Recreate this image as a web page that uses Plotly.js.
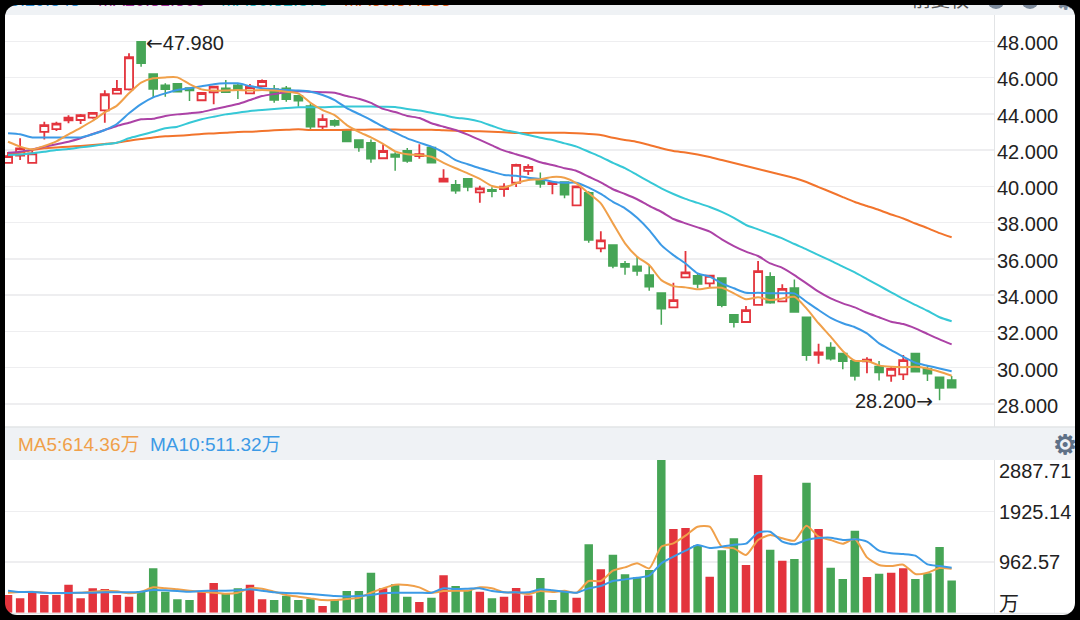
<!DOCTYPE html>
<html><head><meta charset="utf-8">
<script src="https://cdn.plot.ly/plotly-3.0.1.min.js"></script>
<style>
html,body{margin:0;padding:0;background:#fff;width:1080px;height:620px;overflow:hidden}
#chart{position:absolute;left:0;top:0;width:1080px;height:620px}
#frame{position:absolute;left:0;top:0;width:1080px;height:620px;box-sizing:border-box;overflow:hidden;pointer-events:none}
#frame:before{content:"";position:absolute;left:5px;top:5px;right:5px;bottom:5px;border-radius:12px;box-shadow:0 0 0 14px #000}
</style></head><body>
<div id="chart"></div><div id="frame"></div>
<script>
const directions = ("RRRRRRRRRRR"+"GGGGG"+"RR"+"GG"+"RR"+"GGGG"+"R"+"GGGG"+"R"+"GG"+"R"+"G"+"R"+"GG"+"R"+"G"+"RRR"+"G"+"R"+"G"+"R"+"G"+"R"+"GGGGG"+"RR"+"G"+"R"+"GG"+"RR"+"G"+"R"+"GG"+"R"+"GGG"+"R"+"G"+"RR"+"GGGG").split("");
const bodyTop = [41.67,42.10,41.82,43.38,43.46,43.79,43.93,44.05,45.08,45.37,47.12,47.98,46.20,45.57,45.66,45.42,45.15,45.50,45.41,45.57,45.48,45.81,45.37,45.41,45.00,44.43,43.71,43.62,43.11,42.56,42.41,41.95,41.77,41.97,41.78,42.15,40.42,40.09,40.42,39.89,39.81,39.98,41.19,41.08,40.39,40.20,40.24,40.00,39.65,37.02,36.76,35.73,35.59,35.11,34.12,33.73,35.26,35.07,35.07,34.94,32.92,33.18,35.33,35.02,34.35,34.39,32.78,30.85,31.12,30.79,30.38,30.44,30.07,29.93,30.42,30.79,29.94,29.47,29.32];
const bodyBottom = [41.29,41.69,41.30,43.01,43.16,43.64,43.66,43.79,44.19,45.11,45.35,46.79,45.37,45.35,45.22,45.28,44.75,45.19,45.19,45.31,45.13,45.53,44.76,44.80,44.72,43.29,43.29,43.38,42.48,42.15,41.52,41.55,41.62,41.40,41.67,41.30,40.26,39.76,39.96,39.67,39.73,39.85,40.20,40.85,40.13,40.13,39.54,38.95,37.04,36.58,35.61,35.55,35.33,34.46,33.25,33.33,34.98,34.61,34.65,33.44,32.50,32.52,33.46,33.58,33.66,33.07,30.68,30.71,30.49,30.35,29.54,30.35,29.74,29.56,29.63,29.78,29.67,28.88,28.89];
const highs = [41.90,42.65,42.06,43.57,43.57,43.92,43.99,44.10,45.30,45.87,47.34,47.98,46.20,45.68,45.66,45.46,45.19,45.53,45.87,45.64,45.64,45.90,45.59,45.53,45.05,44.58,43.97,43.70,43.11,42.59,42.59,42.32,41.88,42.11,42.32,42.19,40.94,40.35,40.46,40.04,39.95,40.17,41.25,41.22,40.77,40.20,40.28,40.04,39.73,37.52,36.76,35.88,36.12,35.66,34.12,34.69,36.43,35.20,35.11,34.96,32.92,33.40,35.88,35.26,34.60,34.87,32.78,31.32,31.41,30.82,30.42,30.57,30.37,30.05,30.70,30.79,30.11,29.47,29.54];
const lows = [41.29,41.45,41.30,42.59,43.05,43.48,43.44,43.73,43.51,45.09,45.28,46.60,44.87,44.94,45.20,44.71,44.71,44.53,45.16,44.82,45.08,45.50,44.61,44.67,44.39,43.15,43.16,43.29,42.48,41.91,41.30,41.55,40.86,41.30,41.52,41.29,40.26,39.59,39.73,39.10,39.40,39.43,39.96,40.63,39.92,39.56,39.34,38.93,36.89,36.36,35.48,35.13,35.07,34.24,32.37,33.33,34.98,34.38,34.41,33.33,32.22,32.52,33.46,33.53,33.66,33.07,30.38,30.22,30.40,29.92,29.30,29.69,29.30,29.22,29.32,29.78,29.26,28.20,28.89];
const ma5 = [42.46,42.19,42.04,42.23,42.48,42.87,43.23,43.62,44.08,44.45,45.13,45.72,45.96,46.01,46.01,45.64,45.35,45.28,45.28,45.31,45.28,45.31,45.28,45.22,45.13,44.61,44.21,43.93,43.38,43.01,42.70,42.34,41.93,41.77,41.73,41.63,41.30,41.00,40.72,40.41,40.02,39.93,40.17,40.35,40.39,40.52,40.48,40.17,39.62,39.06,37.96,36.86,36.12,35.66,34.83,34.50,34.43,34.32,34.41,34.41,34.10,33.77,33.88,33.73,33.82,33.91,33.27,32.45,31.71,30.92,30.38,30.38,30.13,30.05,30.03,30.05,29.96,29.78,29.56];
const ma10 = [42.93,42.87,42.70,42.70,42.70,42.70,42.70,42.87,43.11,43.44,44.03,44.54,44.91,45.13,45.31,45.41,45.52,45.63,45.68,45.68,45.53,45.41,45.35,45.31,45.28,45.22,45.04,44.76,44.32,43.99,43.66,43.29,42.96,42.65,42.41,42.19,41.88,41.45,41.22,41.00,40.81,40.63,40.59,40.48,40.41,40.26,40.20,40.20,39.93,39.58,39.15,38.79,38.27,37.59,36.76,36.21,35.75,35.20,35.02,34.65,34.38,34.13,34.13,34.10,34.10,34.10,33.64,33.18,32.75,32.45,32.23,31.89,31.34,30.97,30.60,30.27,30.11,29.96,29.81];
const ma20 = [41.86,41.91,42.04,42.19,42.32,42.46,42.65,42.89,43.11,43.33,43.51,43.70,43.73,43.88,43.97,44.03,44.10,44.25,44.39,44.54,44.76,44.98,45.09,45.19,45.24,45.22,45.19,45.16,44.98,44.83,44.60,44.27,44.10,43.88,43.77,43.48,43.29,43.11,42.85,42.56,42.26,41.97,41.77,41.58,41.33,41.18,41.00,40.85,40.53,40.22,39.84,39.58,39.29,38.92,38.60,38.20,37.96,37.74,37.50,37.08,36.71,36.40,36.16,35.75,35.51,35.11,34.65,34.19,33.82,33.55,33.33,33.03,32.78,32.53,32.41,32.17,31.86,31.56,31.29];
const ma30 = [41.73,41.76,41.82,41.91,42.00,42.06,42.15,42.23,42.32,42.41,42.65,42.83,43.01,43.20,43.29,43.51,43.70,43.84,43.97,44.06,44.16,44.21,44.27,44.32,44.36,44.36,44.36,44.39,44.40,44.40,44.40,44.39,44.38,44.27,44.18,44.06,43.93,43.79,43.71,43.57,43.34,43.11,42.98,42.83,42.68,42.56,42.37,42.19,41.91,41.63,41.30,41.00,40.63,40.26,39.89,39.58,39.31,39.09,38.86,38.59,38.26,37.87,37.63,37.38,37.13,36.82,36.53,36.21,35.90,35.57,35.26,34.89,34.52,34.16,33.79,33.46,33.14,32.78,32.56];
const ma60 = [41.78,41.86,42.00,42.10,42.15,42.19,42.23,42.28,42.34,42.41,42.52,42.61,42.70,42.76,42.79,42.83,42.89,42.92,42.96,43.00,43.01,43.05,43.09,43.12,43.15,43.11,43.11,43.11,43.12,43.12,43.13,43.13,43.13,43.12,43.12,43.12,43.09,43.07,43.05,43.04,43.01,42.98,42.94,42.94,42.96,42.96,42.96,42.93,42.89,42.83,42.68,42.56,42.45,42.28,42.10,41.95,41.87,41.76,41.62,41.45,41.29,41.12,40.96,40.79,40.63,40.46,40.24,39.96,39.69,39.41,39.14,38.92,38.70,38.45,38.23,37.95,37.70,37.42,37.19];
const volume = [337,273,413,337,337,534,273,464,451,337,305,413,845,400,254,241,413,565,356,464,534,254,241,324,241,261,127,241,413,413,762,464,540,305,203,286,712,508,432,400,273,305,470,330,661,241,407,286,1303,826,1106,731,674,813,2920,1595,1614,1290,686,1188,1417,909,2624,1201,991,1023,2478,1595,858,642,1563,680,743,762,845,642,750,1252,616];
const volColors = ("RRRRRRRRRRR"+"GGGGG"+"RR"+"GG"+"RR"+"GGGG"+"R"+"GGGG"+"R"+"GG"+"R"+"G"+"R"+"GG"+"R"+"G"+"RRR"+"G"+"G"+"G"+"R"+"G"+"R"+"GGGGG"+"RR"+"G"+"R"+"GG"+"RR"+"G"+"R"+"GG"+"R"+"GGG"+"R"+"G"+"RR"+"GGGG").split("");
const volMa5 = [381,394,400,381,369,375,381,400,419,407,369,400,483,464,445,419,400,381,362,381,464,458,400,337,305,273,241,241,261,286,381,464,534,527,483,381,413,419,419,483,464,388,388,356,413,394,419,381,604,604,801,864,940,845,1258,1322,1468,1639,1639,1258,1226,1099,1385,1480,1417,1372,1658,1449,1385,1315,1404,1055,909,890,915,737,762,851,839];
const volMa10 = [419,394,394,381,375,375,381,381,388,388,388,400,432,426,413,400,413,419,419,426,445,419,388,375,369,356,337,318,311,318,337,369,381,381,381,381,464,451,457,464,413,388,388,388,445,426,400,381,464,508,604,635,667,705,940,1067,1182,1290,1233,1258,1296,1315,1525,1544,1353,1303,1385,1423,1430,1385,1398,1353,1182,1131,1118,1087,921,890,858];
const priceTicks = [28,30,32,34,36,38,40,42,44,46,48];
const volTickVals = [962.57,1925.14];
const volTickText = ["962.57","1925.14"];
const maLabelsTop = ["0:29.843","MA20:31.305","MA30:32.573","MA60:37.253"];
const maLabelsVol = ["MA5:614.36万","MA10:511.32万"];

const RED="#e3343d", GREEN="#46a556", FONT="'Liberation Sans','Noto Sans CJK SC',sans-serif";
const idx = bodyTop.map((_,i)=>i);
const opens = idx.map(i=>directions[i]==="R"?bodyBottom[i]:bodyTop[i]);
const closes = idx.map(i=>directions[i]==="R"?bodyTop[i]:bodyBottom[i]);
const H=620,W=1080;
const px=v=>v/W, py=v=>1-v/H;
const line=(y,color,name,xa,ya)=>({type:"scatter",mode:"lines",x:idx,y:y,xaxis:xa,yaxis:ya,name:name,line:{color:color,width:2,shape:"spline",smoothing:0.6},hoverinfo:"skip"});
const traces=[
 {type:"candlestick",x:idx,open:opens,high:highs,low:lows,close:closes,xaxis:"x",yaxis:"y",
  increasing:{line:{color:RED,width:1.8},fillcolor:"#ffffff"},decreasing:{line:{color:GREEN,width:1.5},fillcolor:GREEN},whiskerwidth:0,hoverinfo:"skip"},
 line(ma60,"#f2742c","MA60","x","y"),
 line(ma30,"#36c8d6","MA30","x","y"),
 line(ma20,"#ac42a6","MA20","x","y"),
 line(ma10,"#3c9ae6","MA10","x","y"),
 line(ma5,"#f0a04a","MA5","x","y"),
 {type:"bar",x:idx,y:volume,xaxis:"x2",yaxis:"y2",marker:{color:volColors.map(c=>c==="R"?RED:GREEN),line:{width:0}},hoverinfo:"skip"},
 line(volMa5,"#f0a04a","VMA5","x2","y2"),
 line(volMa10,"#3c9ae6","VMA10","x2","y2"),
 {type:"scatter",mode:"none",x:[0],y:[40],xaxis:"x",yaxis:"y3",hoverinfo:"skip"}
];
const rect=(x0,y0,x1,y1,fill)=>({type:"rect",xref:"paper",yref:"paper",x0:px(x0),x1:px(x1),y0:py(y0),y1:py(y1),fillcolor:fill,line:{width:0},layer:"below"});
const hline=(y,x0,x1,c)=>({type:"line",xref:"paper",yref:"paper",x0:px(x0),x1:px(x1),y0:py(y),y1:py(y),line:{color:c,width:1.5},layer:"below"});
const dot=(cx,cy,r,c)=>({type:"circle",xref:"paper",yref:"paper",x0:px(cx-r),x1:px(cx+r),y0:py(cy+r),y1:py(cy-r),fillcolor:c,line:{width:0},layer:"below"});
const note=(text,x,y,size,color,anchor)=>({text:text,xref:"paper",yref:"paper",x:px(x),y:py(y),xanchor:anchor||"left",yanchor:"middle",showarrow:false,font:{family:FONT,size:size,color:color}});
const xBase={showgrid:false,zeroline:false,showticklabels:false,ticks:"",range:[-0.25,81.5]};
const arrow=s=>'<span style="font-family:DejaVu Sans">'+s+'</span>';
const labelFont={family:FONT,size:20,color:"#222"};
const layout={
 width:W,height:H,margin:{l:0,r:0,t:0,b:0},paper_bgcolor:"#fff",plot_bgcolor:"rgba(0,0,0,0)",showlegend:false,bargap:0.3,boxgap:0.04,
 xaxis:Object.assign({},xBase,{domain:[px(5),px(994)],anchor:"y",rangeslider:{visible:false}}),
 xaxis2:Object.assign({},xBase,{domain:[px(5),px(994)],anchor:"y2"}),
 yaxis:{domain:[py(427),py(15)],range:[26.73,49.45],side:"right",anchor:"x",showticklabels:false,tickmode:"array",tickvals:priceTicks,
   showgrid:true,gridcolor:"#eeeef0",gridwidth:1.5,zeroline:false,showline:true,linecolor:"#e2e4e6",linewidth:1,ticks:""},
 yaxis3:{domain:[py(427),py(15)],range:[26.73+1.8/18.13,49.45+1.8/18.13],side:"right",anchor:"x",overlaying:"y",tickmode:"array",tickvals:priceTicks,tickformat:".3f",
   showgrid:false,zeroline:false,showline:false,ticks:"",tickfont:labelFont,ticklabelstandoff:2},
 yaxis2:{domain:[py(612.7),py(460)],range:[0,2910],side:"right",anchor:"x2",tickmode:"array",tickvals:volTickVals,ticktext:volTickText,
   showgrid:true,gridcolor:"#eeeef0",gridwidth:1.5,zeroline:false,showline:true,linecolor:"#e2e4e6",linewidth:1,ticks:"",tickfont:labelFont},
 shapes:[
  rect(0,0,1080,15,"#eff2f5"),
  rect(0,427,1080,460,"#eff2f5"),
  hline(427,0,1080,"#e2e4e6"),
  hline(613.5,0,1080,"#e2e4e6"),
  dot(996,0,9,"#7c8a9c"),dot(1030,0,9,"#7c8a9c")
 ],
 annotations:[
  note(maLabelsTop[0],8,0,18,"#2c8fd8"),
  note(maLabelsTop[1],96,0,18,"#a5309a"),
  note(maLabelsTop[2],219,0,18,"#26b8c6"),
  note(maLabelsTop[3],342,0,18,"#e8641e"),
  note("前复权",910,0,19,"#555"),
  note("<b>⚙</b>",1065,0,26,"#7c8a9c","center"),
  note(maLabelsVol[0],16,444,19,"#f0a04a"),
  note(maLabelsVol[1],148,444,19,"#3c9ae6"),
  note("<b>⚙</b>",1065,445,27,"#5f7187","center"),
  note("2887.71",997,471,20,"#222"),
  note("万",997,604,20,"#222"),
  {text:arrow("←")+"47.980",x:11,y:47.98,xref:"x",yref:"y",xanchor:"left",yanchor:"middle",xshift:3,yshift:-1,showarrow:false,font:labelFont},
  {text:"28.200"+arrow("→"),x:77,y:28.2,xref:"x",yref:"y",xanchor:"right",yanchor:"middle",xshift:-5,yshift:-1,showarrow:false,font:labelFont}
 ]
};
Plotly.newPlot("chart",traces,layout,{staticPlot:true,displayModeBar:false});
</script>
</body></html>
